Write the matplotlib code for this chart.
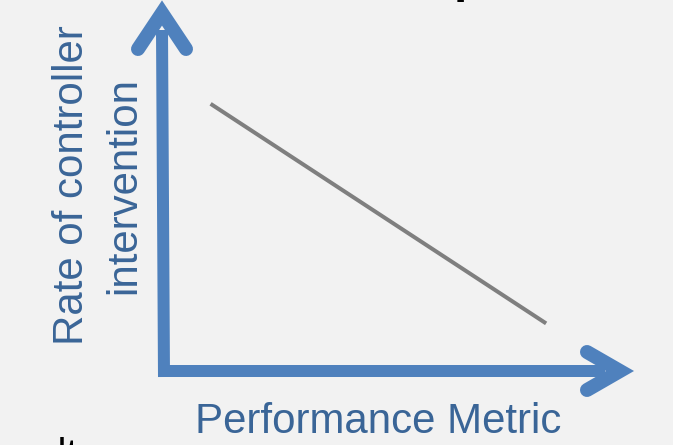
import matplotlib
matplotlib.use("Agg")
import matplotlib.pyplot as plt

# Conceptual relationship: more performance -> less controller intervention
performance = [0.10, 0.82]
intervention_rate = [0.73, 0.13]

x_label = "Performance Metric"
y_label_lines = ["Rate of controller", "intervention"]

W, H = 673, 445
BG = "#f2f2f2"
ARROW = "#4f81bd"
LABEL = "#3a6597"
LINE = "#7f7f7f"
FONT = "Liberation Sans"
PX = 72 / 100  # points per pixel at dpi 100

fig = plt.figure(figsize=(W / 100, H / 100), dpi=100, facecolor=BG)

# Canvas axes in pixel units for the hand-drawn axis arrows and labels
canvas = fig.add_axes([0, 0, 1, 1])
canvas.set_xlim(0, W)
canvas.set_ylim(H, 0)
canvas.axis("off")
canvas.set_facecolor(BG)

shaft_w = 12 * PX
head_w = 14 * PX

# vertical axis arrow
canvas.plot([164, 162], [377, 30], color=ARROW, lw=shaft_w, solid_capstyle="butt")
canvas.plot([138, 162, 186], [49, 13, 49], color=ARROW, lw=head_w,
            solid_capstyle="round", solid_joinstyle="miter")

# horizontal axis arrow
canvas.plot([158, 605], [371, 371], color=ARROW, lw=shaft_w, solid_capstyle="butt")
canvas.plot([587, 620, 587], [352, 371, 390], color=ARROW, lw=head_w,
            solid_capstyle="round", solid_joinstyle="miter")

# axis titles
label_px = 42
canvas.text(378, 433, x_label, color=LABEL, fontsize=label_px * PX,
            family=FONT, ha="center", va="baseline")
canvas.text(83, 185, y_label_lines[0], color=LABEL, fontsize=label_px * PX,
            family=FONT, rotation=90, rotation_mode="anchor",
            ha="center", va="baseline")
canvas.text(135, 186, y_label_lines[1], color=LABEL, fontsize=label_px * PX,
            family=FONT, rotation=90, rotation_mode="anchor",
            ha="center", va="baseline")

# surrounding slide text running off the edges
canvas.text(454, -8, "p", color="black", fontsize=48 * PX, family=FONT,
            weight="bold", ha="left", va="baseline")
canvas.text(-35, 467, "Results", color="black", fontsize=40 * PX, family=FONT,
            ha="left", va="baseline")

# plotting area for the relationship line
left, right, bottom, top = 164, 630, 371, 5
ax = fig.add_axes([left / W, (H - bottom) / H, (right - left) / W, (bottom - top) / H])
ax.set_xlim(0, 1)
ax.set_ylim(0, 1)
ax.axis("off")
ax.patch.set_alpha(0)
ax.plot(performance, intervention_rate, color=LINE, lw=4 * PX, solid_capstyle="butt")

fig.savefig("out.png", dpi=100, facecolor=BG)
